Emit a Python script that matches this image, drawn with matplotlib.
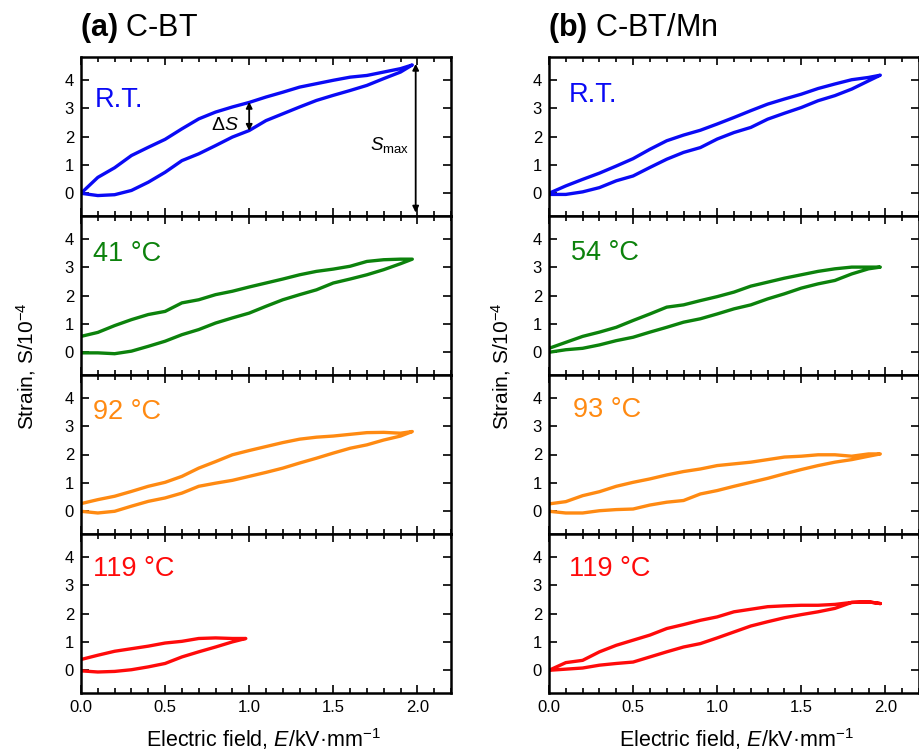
import matplotlib
matplotlib.use("Agg")
import matplotlib.pyplot as plt
from matplotlib.ticker import MultipleLocator, FormatStrFormatter

plt.rcParams['font.family'] = ['Liberation Sans', 'DejaVu Sans']
plt.rcParams['mathtext.fontset'] = 'custom'
plt.rcParams['mathtext.rm'] = 'Liberation Sans'
plt.rcParams['mathtext.it'] = 'Liberation Sans:italic'
plt.rcParams['mathtext.bf'] = 'Liberation Sans:bold'

# ---------------- data ----------------
E_full = [0.0, 0.1, 0.2, 0.3, 0.4, 0.5, 0.6, 0.7, 0.8, 0.9, 1.0,
          1.1, 1.2, 1.3, 1.4, 1.5, 1.6, 1.7, 1.8, 1.9, 1.97]
E_half = [0.0, 0.1, 0.2, 0.3, 0.4, 0.5, 0.6, 0.7, 0.8, 0.9, 0.98]

# (a) C-BT
cbt_rt_up = [0.0, -0.08, -0.05, 0.10, 0.39, 0.74, 1.15, 1.39, 1.68, 1.98, 2.21,
             2.56, 2.80, 3.04, 3.27, 3.45, 3.62, 3.80, 4.04, 4.27, 4.52]
cbt_rt_down = [0.0, 0.56, 0.90, 1.33, 1.62, 1.90, 2.27, 2.62, 2.86, 3.04, 3.20,
               3.39, 3.56, 3.74, 3.86, 3.98, 4.09, 4.15, 4.27, 4.39, 4.52]
cbt_41_up = [-0.02, -0.02, -0.05, 0.04, 0.21, 0.39, 0.62, 0.80, 1.03, 1.21, 1.38,
             1.62, 1.85, 2.03, 2.20, 2.44, 2.58, 2.73, 2.91, 3.12, 3.28]
cbt_41_down = [0.56, 0.70, 0.94, 1.15, 1.33, 1.44, 1.74, 1.85, 2.03, 2.15, 2.30,
               2.44, 2.58, 2.73, 2.85, 2.93, 3.03, 3.20, 3.26, 3.28, 3.28]
cbt_92_up = [0.0, -0.06, 0.0, 0.18, 0.35, 0.47, 0.64, 0.88, 0.99, 1.09, 1.23,
             1.37, 1.52, 1.70, 1.87, 2.05, 2.22, 2.34, 2.51, 2.65, 2.81]
cbt_92_down = [0.27, 0.41, 0.53, 0.70, 0.88, 1.02, 1.23, 1.52, 1.75, 1.99, 2.14,
               2.28, 2.42, 2.54, 2.61, 2.65, 2.71, 2.77, 2.78, 2.75, 2.81]
cbt_119_up = [-0.02, -0.06, -0.04, 0.02, 0.12, 0.24, 0.47, 0.65, 0.82, 1.00, 1.12]
cbt_119_down = [0.38, 0.53, 0.67, 0.76, 0.85, 0.96, 1.02, 1.12, 1.14, 1.12, 1.12]

# (b) C-BT/Mn
mn_rt_up = [-0.04, -0.04, 0.05, 0.20, 0.44, 0.61, 0.91, 1.20, 1.44, 1.61, 1.91,
            2.14, 2.32, 2.61, 2.82, 3.02, 3.26, 3.44, 3.67, 3.96, 4.16]
mn_rt_down = [0.0, 0.26, 0.49, 0.71, 0.96, 1.22, 1.55, 1.85, 2.05, 2.22, 2.44,
              2.67, 2.91, 3.14, 3.32, 3.49, 3.69, 3.85, 4.00, 4.08, 4.16]
mn_54_up = [0.0, 0.09, 0.14, 0.26, 0.41, 0.53, 0.71, 0.88, 1.06, 1.18, 1.35,
            1.53, 1.67, 1.88, 2.06, 2.26, 2.41, 2.53, 2.76, 2.94, 3.00]
mn_54_down = [0.14, 0.35, 0.56, 0.71, 0.88, 1.12, 1.35, 1.59, 1.67, 1.82, 1.96,
              2.12, 2.33, 2.47, 2.61, 2.73, 2.85, 2.94, 3.00, 3.00, 3.00]
mn_93_up = [0.0, -0.06, -0.06, 0.02, 0.06, 0.08, 0.22, 0.32, 0.38, 0.61, 0.73,
            0.88, 1.02, 1.16, 1.32, 1.47, 1.61, 1.73, 1.82, 1.94, 2.02]
mn_93_down = [0.26, 0.34, 0.55, 0.69, 0.88, 1.02, 1.14, 1.28, 1.40, 1.49, 1.61,
              1.67, 1.73, 1.82, 1.91, 1.94, 1.99, 1.99, 1.94, 2.02, 2.02]
mn_119_up = [0.0, 0.04, 0.08, 0.18, 0.24, 0.29, 0.47, 0.65, 0.82, 0.94, 1.14,
             1.35, 1.56, 1.71, 1.85, 1.96, 2.06, 2.18, 2.39, 2.41, 2.35]
mn_119_down = [0.0, 0.27, 0.35, 0.65, 0.88, 1.06, 1.24, 1.47, 1.61, 1.76, 1.88,
               2.06, 2.15, 2.24, 2.27, 2.29, 2.29, 2.32, 2.39, 2.41, 2.35]

left_labels = ['R.T.', '41 °C', '92 °C', '119 °C']
right_labels = ['R.T.', '54 °C', '93 °C', '119 °C']
colors = ['#0a0af5', '#0c820c', '#ff8a12', '#ff0a0a']

left_series = [(E_full, cbt_rt_up, cbt_rt_down), (E_full, cbt_41_up, cbt_41_down),
               (E_full, cbt_92_up, cbt_92_down), (E_half, cbt_119_up, cbt_119_down)]
right_series = [(E_full, mn_rt_up, mn_rt_down), (E_full, mn_54_up, mn_54_down),
                (E_full, mn_93_up, mn_93_down), (E_full, mn_119_up, mn_119_down)]

# ---------------- figure ----------------
W, H = 920, 754
fig = plt.figure(figsize=(W / 100, H / 100), dpi=100)

top_px, bot_px = 57, 693
ph = (bot_px - top_px) / 4
cols = [(81, 451), (549, 919)]
label_pos_left = [(0.08, 3.3), (0.07, 3.45), (0.07, 3.5), (0.07, 3.55)]
label_pos_right = [(0.12, 3.45), (0.13, 3.5), (0.14, 3.55), (0.12, 3.55)]

axes_all = []
for ci, (x0, x1) in enumerate(cols):
    series = left_series if ci == 0 else right_series
    labels = left_labels if ci == 0 else right_labels
    lpos = label_pos_left if ci == 0 else label_pos_right
    col_axes = []
    for r in range(4):
        y_top = top_px + r * ph
        ax = fig.add_axes([x0 / W, 1 - (y_top + ph) / H, (x1 - x0) / W, ph / H])
        E, up, down = series[r]
        xs = list(E) + list(E[::-1])
        ys = list(up) + list(down[::-1])
        ax.plot(xs, ys, color=colors[r], lw=2.4, solid_joinstyle='round',
                solid_capstyle='round')
        ax.set_xlim(0, 2.2)
        ax.set_ylim(-0.8, 4.8)
        ax.xaxis.set_major_locator(MultipleLocator(0.5))
        ax.xaxis.set_minor_locator(MultipleLocator(0.1))
        ax.set_yticks([0, 1, 2, 3, 4])
        ax.tick_params(which='both', direction='in', top=True, right=True,
                       width=1.2, labelsize=12, pad=5)
        ax.tick_params(which='major', length=6)
        ax.tick_params(which='minor', length=3.5)
        for s in ax.spines.values():
            s.set_linewidth(1.8)
        if r < 3:
            ax.tick_params(labelbottom=False)
        else:
            ax.xaxis.set_major_formatter(FormatStrFormatter('%.1f'))
        ax.text(lpos[r][0], lpos[r][1], labels[r], color=colors[r], fontsize=19.5,
                ha='left', va='center')
        col_axes.append(ax)
    axes_all.append(col_axes)

# annotations on (a) R.T.
ax0 = axes_all[0][0]
ax0.annotate('', xy=(1.0, 2.2), xytext=(1.0, 3.22),
             arrowprops=dict(arrowstyle='<|-|>', color='black', lw=1.3,
                             mutation_scale=9, shrinkA=0, shrinkB=0))
ax0.text(0.94, 2.4, r'$\Delta S$', fontsize=14, ha='right', va='center')
ax0.annotate('', xy=(1.99, -0.68), xytext=(1.99, 4.56),
             arrowprops=dict(arrowstyle='<|-|>', color='black', lw=1.3,
                             mutation_scale=9, shrinkA=0, shrinkB=0))
ax0.text(1.95, 1.7, r'$S_{\mathregular{max}}$', fontsize=13.5, ha='right', va='center')

# titles
fig.text(80 / W, 1 - 28 / H, r'$\mathbf{(a)}$ C-BT', fontsize=22, ha='left', va='center')
fig.text(548 / W, 1 - 28 / H, r'$\mathbf{(b)}$ C-BT/Mn', fontsize=22, ha='left', va='center')

# axis labels
for xc, xl in [(26, (81 + 451) / 2 - 3), (501, (549 + 919) / 2 + 2)]:
    fig.text(xc / W, 1 - 366 / H, r'Strain, S/10$^{-4}$', rotation=90,
             fontsize=15, ha='center', va='center')
    fig.text(xl / W, 1 - 739 / H, r'Electric field, $E$/kV·mm$^{-1}$',
             fontsize=15.5, ha='center', va='center')

fig.savefig('out.png', dpi=100)
